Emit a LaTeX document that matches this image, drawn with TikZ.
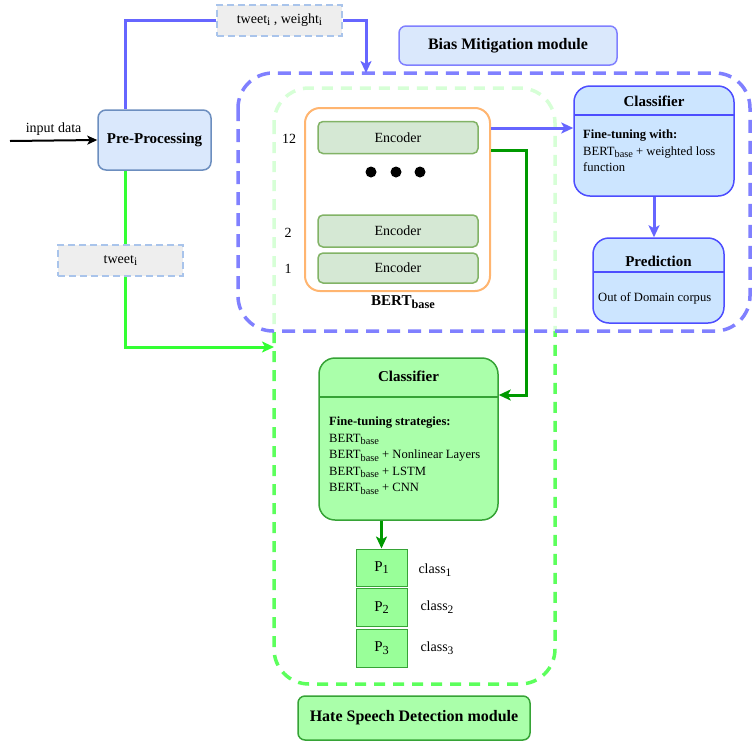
\documentclass[tikz,border=0pt]{standalone}
\usepackage{fontspec}
\setmainfont{Liberation Serif}
\usetikzlibrary{arrows.meta,positioning}
\definecolor{ppfill}{HTML}{DAE8FC}
\definecolor{ppdraw}{HTML}{6C8EBF}
\definecolor{tagfill}{HTML}{EEEEEE}
\definecolor{tagdraw}{HTML}{A9C4EB}
\definecolor{blueln}{HTML}{6666FF}
\definecolor{bluecnt}{HTML}{8080FF}
\definecolor{lanefill}{HTML}{CCE5FF}
\definecolor{lanedraw}{HTML}{4D4DFF}
\definecolor{greencnt}{HTML}{5CFF5C}
\definecolor{greenln}{HTML}{33FF33}
\definecolor{darkgreen}{HTML}{009900}
\definecolor{gboxfill}{HTML}{AAFFAA}
\definecolor{gboxdraw}{HTML}{36A336}
\definecolor{pfill}{HTML}{99FF99}
\definecolor{encfill}{HTML}{D5E8D4}
\definecolor{encdraw}{HTML}{82B366}
\definecolor{bertdraw}{HTML}{FFB570}
% draw.io-like subscript (larger than \textsubscript)
\newcommand{\sbs}[1]{\raisebox{-0.4ex}{\scalebox{0.82}{#1}}}
\tikzset{
  ppbox/.style={rectangle, rounded corners=8pt, draw=ppdraw, fill=ppfill, line width=1.5pt, minimum width=113pt, minimum height=60pt, font=\fontsize{15}{17}\selectfont\bfseries},
  tagbox/.style={rectangle, draw=tagdraw, fill=tagfill, line width=2pt, dash pattern=on 7pt off 4pt, minimum width=125pt, minimum height=31pt, font=\fontsize{14}{16}\selectfont},
  modbox/.style={rectangle, rounded corners=7pt, line width=1.5pt, font=\fontsize{16}{18}\selectfont\bfseries},
  encbox/.style={rectangle, rounded corners=5pt, draw=encdraw, fill=encfill, line width=1.5pt, minimum width=160pt, minimum height=32pt, font=\fontsize{14}{16}\selectfont},
  lanebox/.style={rectangle, rounded corners=16pt, line width=1.5pt},
  pbox/.style={rectangle, draw=gboxdraw, fill=pfill, line width=1pt, minimum width=51pt, minimum height=38pt, font=\fontsize{15}{17}\selectfont},
  lbl/.style={font=\fontsize{14}{16}\selectfont},
  ttl/.style={font=\fontsize{15}{17}\selectfont\bfseries},
  body/.style={align=left, anchor=north west, inner sep=0pt, font=\fontsize{12.6}{16.5}\selectfont},
  conn/.style={line width=3pt, -{Stealth[length=12pt, width=11pt, inset=3pt]}}
}
\begin{document}
\begin{tikzpicture}[x=1pt, y=-1pt]
  \useasboundingbox (0,0) rectangle (752,742);

  % module containers (green one behind the blue one)
  \draw[greencnt, line width=3.5pt, dash pattern=on 11pt off 8pt, rounded corners=35pt] (274,88) rectangle (555,684);
  \draw[bluecnt, line width=3.5pt, dash pattern=on 13pt off 8pt, rounded corners=35pt, fill=white, fill opacity=0.75] (238,73) rectangle (750,331);

  % input side
  \node[ppbox] (pre) at (154.5,140) {Pre-Processing};
  \coordinate (src) at (10,141);
  \draw[line width=2pt, -{Stealth[length=10pt, width=9pt, inset=2.5pt]}] (src) -- (pre.west) node[midway, above=1pt, lbl] (inlbl) {input data};
  \node[tagbox] (tagA) at (279.5,20) {tweet\sbs{i} , weight\sbs{i}};
  \node[tagbox] (tagB) at (120.5,260.5) {tweet\sbs{i}};
  \node[modbox, draw=bluecnt, fill=ppfill, minimum width=218pt, minimum height=39pt] (bias) at (508,45.5) {Bias Mitigation module};
  \node[modbox, draw=gboxdraw, fill=gboxfill, minimum width=232pt, minimum height=44pt] (hate) at (414,718) {Hate Speech Detection module};

  % BERT encoder stack
  \node[rectangle, rounded corners=15pt, draw=bertdraw, line width=2pt, fill=white, minimum width=185pt, minimum height=183pt] (bert) at (397.5,199.5) {};
  \node[encbox] (enc12) at (398,137.5) {Encoder};
  \node[encbox] (enc2) at (398,231) {Encoder};
  \node[encbox, minimum height=30pt] (enc1) at (398,268) {Encoder};
  \foreach \x in {371,396,420} \fill (\x,172) circle (5.5pt);
  \node[lbl] (n12) at (289,139) {12};
  \node[lbl] (n2) at (288,233) {2};
  \node[lbl] (n1) at (288,269) {1};
  \node[ttl] (bertlbl) at (403,302) {BERT\sbs{base}};

  % bias mitigation classifier and prediction
  \node[lanebox, draw=lanedraw, fill=lanefill, minimum width=160pt, minimum height=110pt] (clsB) at (654,141) {};
  \draw[lanedraw, line width=1.5pt] (574,115) -- (734,115);
  \node[ttl] (clsBt) at (654,101) {Classifier};
  \node[body] (clsBtxt) at (583,130) {\textbf{Fine-tuning with:}\\BERT\sbs{base} + weighted loss\\function};
  \node[lanebox, draw=lanedraw, fill=lanefill, minimum width=131pt, minimum height=85pt] (pred) at (658.5,280.5) {};
  \draw[lanedraw, line width=1.5pt] (593,272) -- (724,272);
  \node[ttl] (predt) at (658.5,261) {Prediction};
  \node[body, anchor=west] (predtxt) at (598,298) {Out of Domain corpus};

  % hate speech classifier and outputs
  \node[lanebox, draw=gboxdraw, fill=gboxfill, minimum width=179pt, minimum height=162pt] (clsG) at (408.5,439) {};
  \draw[gboxdraw, line width=2pt] (319,397) -- (498,397);
  \node[ttl] (clsGt) at (408.5,376) {Classifier};
  \node[body] (clsGtxt) at (329,417) {\textbf{Fine-tuning strategies:}\\BERT\sbs{base}\\BERT\sbs{base} + Nonlinear Layers\\BERT\sbs{base} + LSTM\\BERT\sbs{base} + CNN};
  \node[pbox, minimum height=37pt] (p1) at (381.5,567.5) {P\sbs{1}};
  \node[pbox] (p2) at (381.5,607.5) {P\sbs{2}};
  \node[pbox] (p3) at (381.5,648) {P\sbs{3}};
  \node[lbl] (c1) at (435,570) {class\sbs{1}};
  \node[lbl] (c2) at (437,607) {class\sbs{2}};
  \node[lbl] (c3) at (437,648) {class\sbs{3}};

  % connectors
  \coordinate (preN) at ([xshift=-29.5pt]pre.north);
  \coordinate (preS) at ([xshift=-29.5pt]pre.south);
  \coordinate (bmin) at (366,73);
  \coordinate (hsin) at (274,347);
  \draw[blueln, line width=3pt] (preN) |- (tagA.west);
  \draw[blueln, conn] (tagA.east) -| (bmin);
  \draw[greenln, line width=3pt] (preS) -- (preS |- tagB.north);
  \draw[greenln, conn] (preS |- tagB.south) |- (hsin);
  \draw[blueln, conn] ([yshift=71.5pt]bert.east) -- ([yshift=71.5pt]bert.east -| clsB.west);
  \draw[darkgreen, conn] ([yshift=49.5pt]bert.east) -- ++(35,0) |- ([yshift=44pt]clsG.east);
  \draw[blueln, conn] (clsB.south) -- (clsB.south |- pred.north);
  \draw[darkgreen, conn] (p1.north |- clsG.south) -- (p1.north);
\end{tikzpicture}
\end{document}
